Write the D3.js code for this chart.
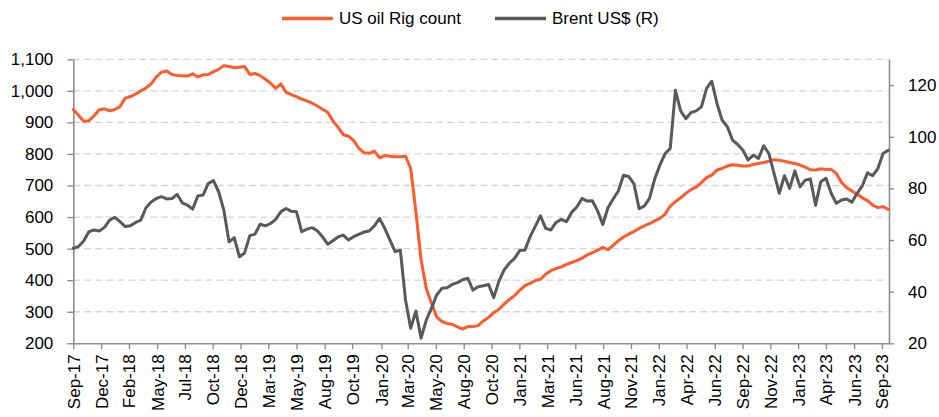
<!DOCTYPE html>
<html>
<head>
<meta charset="utf-8">
<script src="https://cdn.jsdelivr.net/npm/d3@7"></script>
<style>
  body { margin: 0; background: #fff; }
  svg text { font-family: "Liberation Sans", Arial, sans-serif; font-size: 17px; fill: #000; }
</style>
</head>
<body>
<svg id="chart" width="939" height="417"></svg>
<script>
// Fortnightly observations, first one on the start date below
const startDate = "2017-09-22";
const stepDays = 14;

// US oil rig count (left axis)
const rigCount = [
  941, 923, 904, 905, 921, 940, 943, 937, 941, 950,
  977, 982, 990, 1000, 1009, 1022, 1044, 1059, 1063, 1052,
  1049, 1048, 1047, 1054, 1044, 1051, 1052, 1061, 1068, 1080,
  1077, 1073, 1075, 1077, 1052, 1055, 1048, 1037, 1024, 1008,
  1022, 995, 988, 982, 974, 968, 961, 952, 942, 932,
  905, 885, 861, 856, 843, 818, 804, 802, 809, 788,
  795, 793, 791, 791, 793, 754, 617, 464, 374, 327,
  284, 269, 263, 260, 252, 245, 253, 253, 256, 271,
  282, 297, 308, 324, 339, 351, 368, 383, 390, 399,
  403, 419, 430, 437, 442, 450, 456, 462, 470, 480,
  487, 495, 504, 497, 510, 525, 537, 546, 554, 564,
  572, 579, 588, 596, 609, 635, 649, 661, 675, 687,
  695, 709, 725, 733, 749, 754, 762, 766, 764, 762,
  762, 767, 770, 773, 777, 782, 780, 777, 773, 770,
  765, 758, 750, 749, 753, 751, 751, 738, 710, 693,
  683, 672, 661, 652, 638, 630, 633, 624
];

// Brent crude, US$ per barrel (right axis)
const brent = [
  56.8, 57.5, 59.6, 63.2, 63.9, 63.5, 64.9, 67.7, 68.8, 67.1,
  65.2, 65.5, 66.8, 67.7, 72.5, 74.7, 76.1, 76.8, 75.9, 76.1,
  77.7, 74.4, 73.5, 72.0, 77.1, 77.4, 81.9, 83.0, 78.7, 71.6,
  59.3, 60.9, 53.5, 55.0, 61.7, 62.3, 66.1, 65.5, 66.4, 68.0,
  71.0, 72.2, 71.1, 71.0, 63.2, 64.2, 64.8, 63.6, 61.3, 58.4,
  59.7, 61.2, 61.9, 60.0, 61.3, 62.2, 63.1, 63.5, 65.5, 68.4,
  64.5, 60.0, 55.5, 56.1, 36.8, 25.8, 32.5, 22.0, 29.0, 33.5,
  38.7, 41.3, 41.5, 42.8, 43.5, 44.6, 45.2, 40.6, 41.9, 42.3,
  42.8, 37.7, 44.1, 48.4, 51.0, 52.9, 55.9, 56.1, 61.3, 65.3,
  69.4, 64.5, 63.9, 66.8, 68.0, 67.1, 70.7, 72.8, 76.1, 75.1,
  75.2, 71.3, 66.0, 72.5, 75.9, 79.0, 85.1, 84.6, 81.8, 72.2,
  73.1, 76.1, 83.6, 89.0, 93.4, 95.5, 118.0, 110.0, 107.0, 109.4,
  110.0, 111.6, 118.7, 121.5, 112.9, 106.4, 103.9, 98.7, 97.0, 94.8,
  91.0, 92.9, 91.6, 96.5, 93.5, 85.8, 78.1, 84.9, 80.0, 86.8,
  80.6, 83.2, 83.6, 73.5, 82.6, 83.9, 78.1, 74.2, 75.5, 75.9,
  74.6, 78.1, 81.0, 86.0, 84.9, 87.7, 93.5, 94.8
];

const seriesNames = ["US oil Rig count", "Brent US$ (R)"];
const seriesColors = ["#fe5a2b", "#58595b"];

const leftTicks = [200, 300, 400, 500, 600, 700, 800, 900, 1000, 1100];
const rightTicks = [20, 40, 60, 80, 100, 120];

const xTickDates = [
  "2017-09-22", "2017-12-06", "2018-02-19", "2018-05-06", "2018-07-20",
  "2018-10-03", "2018-12-17", "2019-03-02", "2019-05-17", "2019-08-01",
  "2019-10-14", "2020-01-01", "2020-03-12", "2020-05-27", "2020-08-10",
  "2020-10-24", "2021-01-07", "2021-03-23", "2021-06-07", "2021-08-21",
  "2021-11-04", "2022-01-18", "2022-04-03", "2022-06-18", "2022-09-01",
  "2022-11-15", "2023-01-29", "2023-04-14", "2023-06-29", "2023-09-12"
];
const xTickLabels = [
  "Sep-17", "Dec-17", "Feb-18", "May-18", "Jul-18",
  "Oct-18", "Dec-18", "Mar-19", "May-19", "Aug-19",
  "Oct-19", "Jan-20", "Mar-20", "May-20", "Aug-20",
  "Oct-20", "Jan-21", "Mar-21", "Jun-21", "Aug-21",
  "Nov-21", "Jan-22", "Apr-22", "Jun-22", "Sep-22",
  "Nov-22", "Jan-23", "Apr-23", "Jun-23", "Sep-23"
];
const xDomainEnd = "2023-10-01";

// ---- setup ----
const parse = d3.utcParse("%Y-%m-%d");
const t0 = parse(startDate);
const dates = rigCount.map((_, i) => d3.utcDay.offset(t0, i * stepDays));

const plot = { left: 73.3, right: 889, top: 59.3, bottom: 343.3 };

const x = d3.scaleUtc().domain([t0, parse(xDomainEnd)]).range([plot.left, plot.right]);
const yL = d3.scaleLinear().domain([200, 1100]).range([plot.bottom, plot.top]);
const yR = d3.scaleLinear().domain([20, 130]).range([plot.bottom, plot.top]);

const svg = d3.select("#chart");
const axisColor = "#8e8e8e";

// horizontal dashed gridlines
svg.append("g")
  .selectAll("line")
  .data(leftTicks.filter(v => v > 200))
  .join("line")
  .attr("x1", plot.left)
  .attr("x2", plot.right)
  .attr("y1", d => yL(d))
  .attr("y2", d => yL(d))
  .attr("stroke", "#d4d4d4")
  .attr("stroke-width", 1.3)
  .attr("stroke-dasharray", "7,4");

// left axis
const gLeft = svg.append("g")
  .attr("transform", `translate(${plot.left},0)`)
  .call(d3.axisLeft(yL).tickValues(leftTicks).tickFormat(d3.format(",")).tickSize(6).tickSizeOuter(0).tickPadding(14));

// right axis
const gRight = svg.append("g")
  .attr("transform", `translate(${plot.right},0)`)
  .call(d3.axisRight(yR).tickValues(rightTicks).tickSize(5).tickSizeOuter(0).tickPadding(14));

// bottom axis
const gBottom = svg.append("g")
  .attr("transform", `translate(0,${plot.bottom})`)
  .call(d3.axisBottom(x)
    .tickValues(xTickDates.map(parse))
    .tickFormat((d, i) => xTickLabels[i])
    .tickSize(6)
    .tickSizeOuter(0));

gBottom.selectAll("text")
  .attr("y", 0)
  .attr("x", -11)
  .attr("dy", "0.35em")
  .attr("transform", "rotate(-90)")
  .style("text-anchor", "end");

[gLeft, gRight, gBottom].forEach(g => {
  g.select(".domain").attr("stroke", axisColor).attr("stroke-width", 1.6);
  g.selectAll(".tick line").attr("stroke", axisColor).attr("stroke-width", 1.4);
  g.selectAll("text").attr("fill", "#000").style("font-size", "17px")
    .style("font-family", "'Liberation Sans', Arial, sans-serif");
});

// series lines
const rigLine = d3.line()
  .x((d, i) => x(dates[i]))
  .y(d => yL(d))
  .curve(d3.curveLinear);

const brentLine = d3.line()
  .x((d, i) => x(dates[i]))
  .y(d => yR(d))
  .curve(d3.curveLinear);

svg.append("path")
  .datum(rigCount)
  .attr("d", rigLine)
  .attr("fill", "none")
  .attr("stroke", seriesColors[0])
  .attr("stroke-width", 3)
  .attr("stroke-linejoin", "round")
  .attr("stroke-linecap", "round");

svg.append("path")
  .datum(brent)
  .attr("d", brentLine)
  .attr("fill", "none")
  .attr("stroke", seriesColors[1])
  .attr("stroke-width", 3)
  .attr("stroke-linejoin", "round")
  .attr("stroke-linecap", "round");

// legend
const legendItems = [
  { name: seriesNames[0], color: seriesColors[0], x: 282 },
  { name: seriesNames[1], color: seriesColors[1], x: 495 }
];
const legend = svg.append("g");
legendItems.forEach(item => {
  legend.append("line")
    .attr("x1", item.x).attr("x2", item.x + 51)
    .attr("y1", 18.5).attr("y2", 18.5)
    .attr("stroke", item.color)
    .attr("stroke-width", 3.5);
  legend.append("text")
    .attr("x", item.x + 57)
    .attr("y", 18.5)
    .attr("dy", "0.35em")
    .text(item.name);
});
</script>
</body>
</html>
